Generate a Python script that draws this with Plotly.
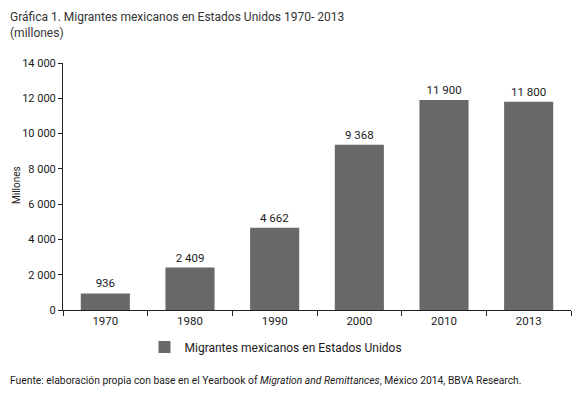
import plotly.graph_objects as go

years = ["1970", "1980", "1990", "2000", "2010", "2013"]
migrantes = [936, 2409, 4662, 9368, 11900, 11800]
series_name = "Migrantes mexicanos en Estados Unidos"
y_ticks = [0, 2000, 4000, 6000, 8000, 10000, 12000, 14000]

FONT = "Roboto, sans-serif"
TXT = "#1a1a1a"

# page body has an 8px default margin, so the figure is sized to fit the window
W, H = 572, 386
L, R, T, B = 55, 9, 55, 84
PW, PH = W - L - R, H - T - B
OX, OY = 8, 8  # figure origin inside the window

fig = go.Figure()
fig.add_trace(go.Bar(
    x=years, y=migrantes, name=series_name,
    marker=dict(color="#67686a", line=dict(width=0)),
    width=0.58,
    texttemplate="%{y:,}", textposition="outside",
    textfont=dict(family=FONT, size=11.5, color=TXT),
    cliponaxis=False,
    showlegend=True,
))

fig.update_layout(
    width=W, height=H,
    margin=dict(l=L, r=R, t=T, b=B, autoexpand=False),
    paper_bgcolor="white", plot_bgcolor="white",
    separators=", ",
    font=dict(family=FONT, size=11.5, color=TXT),
    showlegend=True,
    legend=dict(orientation="h", x=(276 - OX) / W, xanchor="center", xref="container",
                y=1 - (347 - OY) / H, yanchor="middle", yref="container",
                font=dict(family=FONT, size=12, color=TXT), itemwidth=30),
    bargap=0.42,
)
fig.update_xaxes(
    type="category", showline=True, linecolor="#222", linewidth=1,
    ticks="outside", tickson="boundaries", ticklen=5, tickcolor="#222",
    tickfont=dict(family=FONT, size=11.5, color=TXT), showgrid=False, automargin=False,
)
fig.update_yaxes(
    range=[0, 14000], tickvals=y_ticks, separatethousands=True, tickformat=",",
    showline=True, linecolor="#222", linewidth=1,
    ticks="outside", ticklen=4, tickcolor="#222", showgrid=False, zeroline=False,
    tickfont=dict(family=FONT, size=11, color=TXT), automargin=False,
)

fig.add_annotation(text="Millones", textangle=-90,
                   xref="paper", yref="paper", x=-(63 - 16) / PW, y=(310 - 185) / PH,
                   xanchor="center", yanchor="middle", showarrow=False,
                   font=dict(family=FONT, size=10, color=TXT))
fig.add_annotation(text="Gráfica 1. Migrantes mexicanos en Estados Unidos 1970- 2013<br>(millones)",
                   xref="paper", yref="paper", x=-L / PW, y=1 + T / PH, xanchor="left", yanchor="top",
                   align="left", showarrow=False,
                   font=dict(family=FONT, size=12, color="#333"))
fig.add_annotation(text="Fuente: elaboración propia con base en el Yearbook of <i>Migration and Remittances</i>, México 2014, BBVA Research.",
                   xref="paper", yref="paper", x=-L / PW, y=-(380 - 310) / PH, xanchor="left", yanchor="middle",
                   align="left", showarrow=False,
                   font=dict(family=FONT, size=10.3, color=TXT))

fig.write_html("out.html")
